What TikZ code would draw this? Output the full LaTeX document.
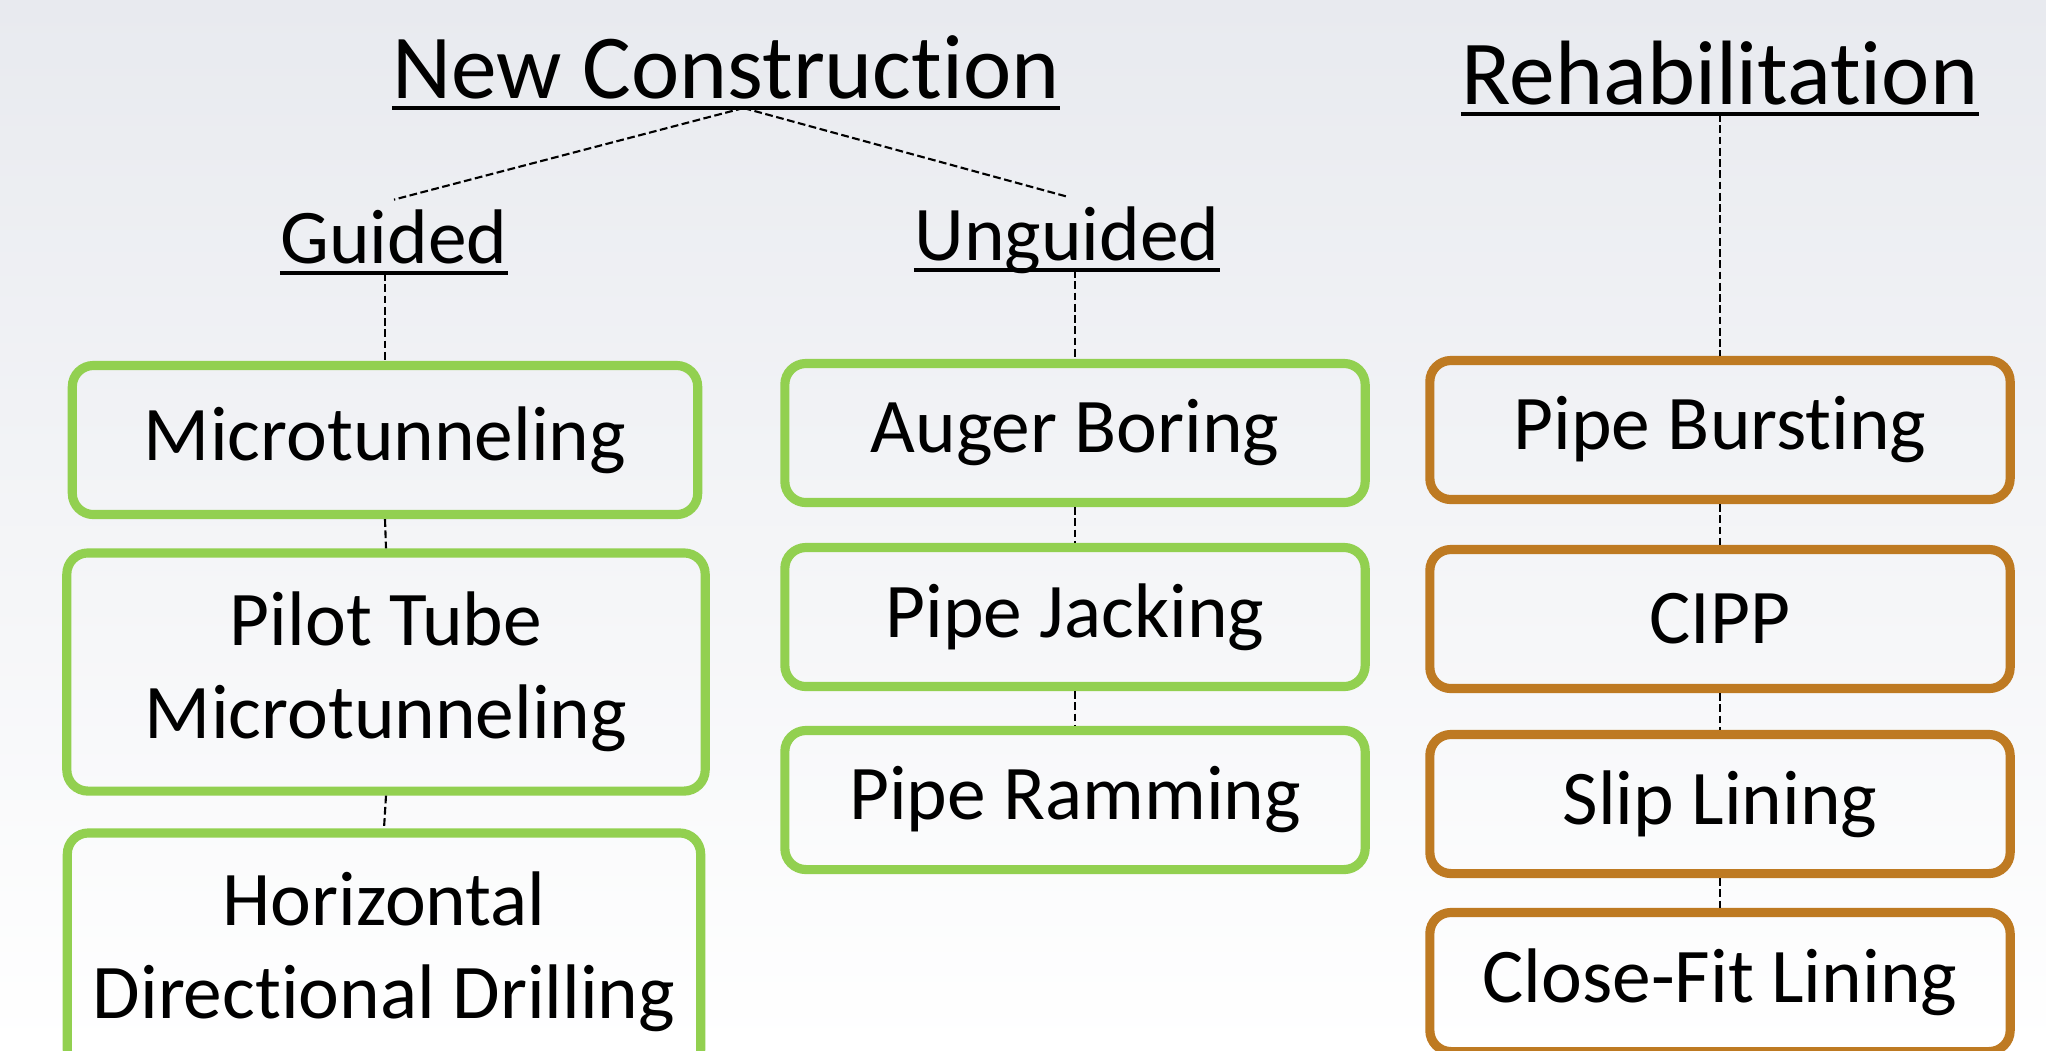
\documentclass[tikz,border=0pt]{standalone}
\usepackage{fontspec}
\setmainfont{Carlito}[RawFeature=-liga, RawFeature=-rlig, RawFeature=-clig, RawFeature=-calt]
\usetikzlibrary{calc}
\definecolor{grn}{RGB}{146,208,80}
\definecolor{brn}{RGB}{190,122,34}
\definecolor{bgtop}{RGB}{232,234,239}

\begin{document}
\begin{tikzpicture}[x=0.01cm, y=-0.01cm,
  head/.style={font=\fontsize{26}{31}\selectfont, text depth=0pt, inner xsep=0pt, inner ysep=2.6pt, anchor=south},
  subhead/.style={head, font=\fontsize{22}{26}\selectfont},
  box/.style={draw=#1, line width=2.6pt, rounded corners=6pt, minimum width=5.8cm, minimum height=1.39cm, align=center, font=\fontsize{22}{26.4}\selectfont},
  link/.style={line width=0.6pt, dash pattern=on 2.2pt off 1pt}]
  \useasboundingbox (0,0) rectangle (2046,1050);
  \shade[top color=bgtop, bottom color=white] (0,0) rectangle (2046,1050);
  % headings
  \node[head] (nc) at (726,108) {New Construction};
  \node[head] (rh) at (1720,114) {Rehabilitation};
  \node[subhead] (gd) at (394,273) {Guided};
  \node[subhead] (ug) at (1067,270) {Unguided};
  \foreach \h in {nc,rh,gd,ug}
    \draw[line width=1pt] (\h.south west) -- (\h.south east);
  % guided
  \node[box=grn, minimum width=6.25cm, minimum height=1.49cm] (mt) at (385,440) {Microtunneling};
  \node[box=grn, minimum width=6.38cm, minimum height=2.38cm] (pt) at (386,672) {Pilot Tube\\Microtunneling};
  \node[box=grn, minimum width=6.33cm, minimum height=2.38cm] (hdd) at (384,952) {Horizontal\\Directional Drilling};
  % unguided
  \node[box=grn] (ab) at (1075,433) {Auger Boring};
  \node[box=grn] (pj) at (1075,617) {Pipe Jacking};
  \node[box=grn] (pr) at (1075,800) {Pipe Ramming};
  % rehabilitation
  \node[box=brn] (pb) at (1720,430) {Pipe Bursting};
  \node[box=brn] (cp) at (1720,619) {CIPP};
  \node[box=brn] (sl) at (1720,804) {Slip Lining};
  \node[box=brn] (cf) at (1720,982) {Close-Fit Lining};

  \path[link]
  ([xshift=5pt]nc.south) edge (gd.north)
                         edge (ug.north)
  (gd.south -| mt.north) edge (mt.north)
  (mt.south) edge (pt.north)
  (pt.south) edge (hdd.north)
  (ug.south -| ab.north) edge (ab.north)
  (ab.south) edge (pj.north)
  (pj.south) edge (pr.north)
  (rh.south) edge (pb.north)
  (pb.south) edge (cp.north)
  (cp.south) edge (sl.north)
  (sl.south) edge (cf.north);
\end{tikzpicture}
\end{document}
